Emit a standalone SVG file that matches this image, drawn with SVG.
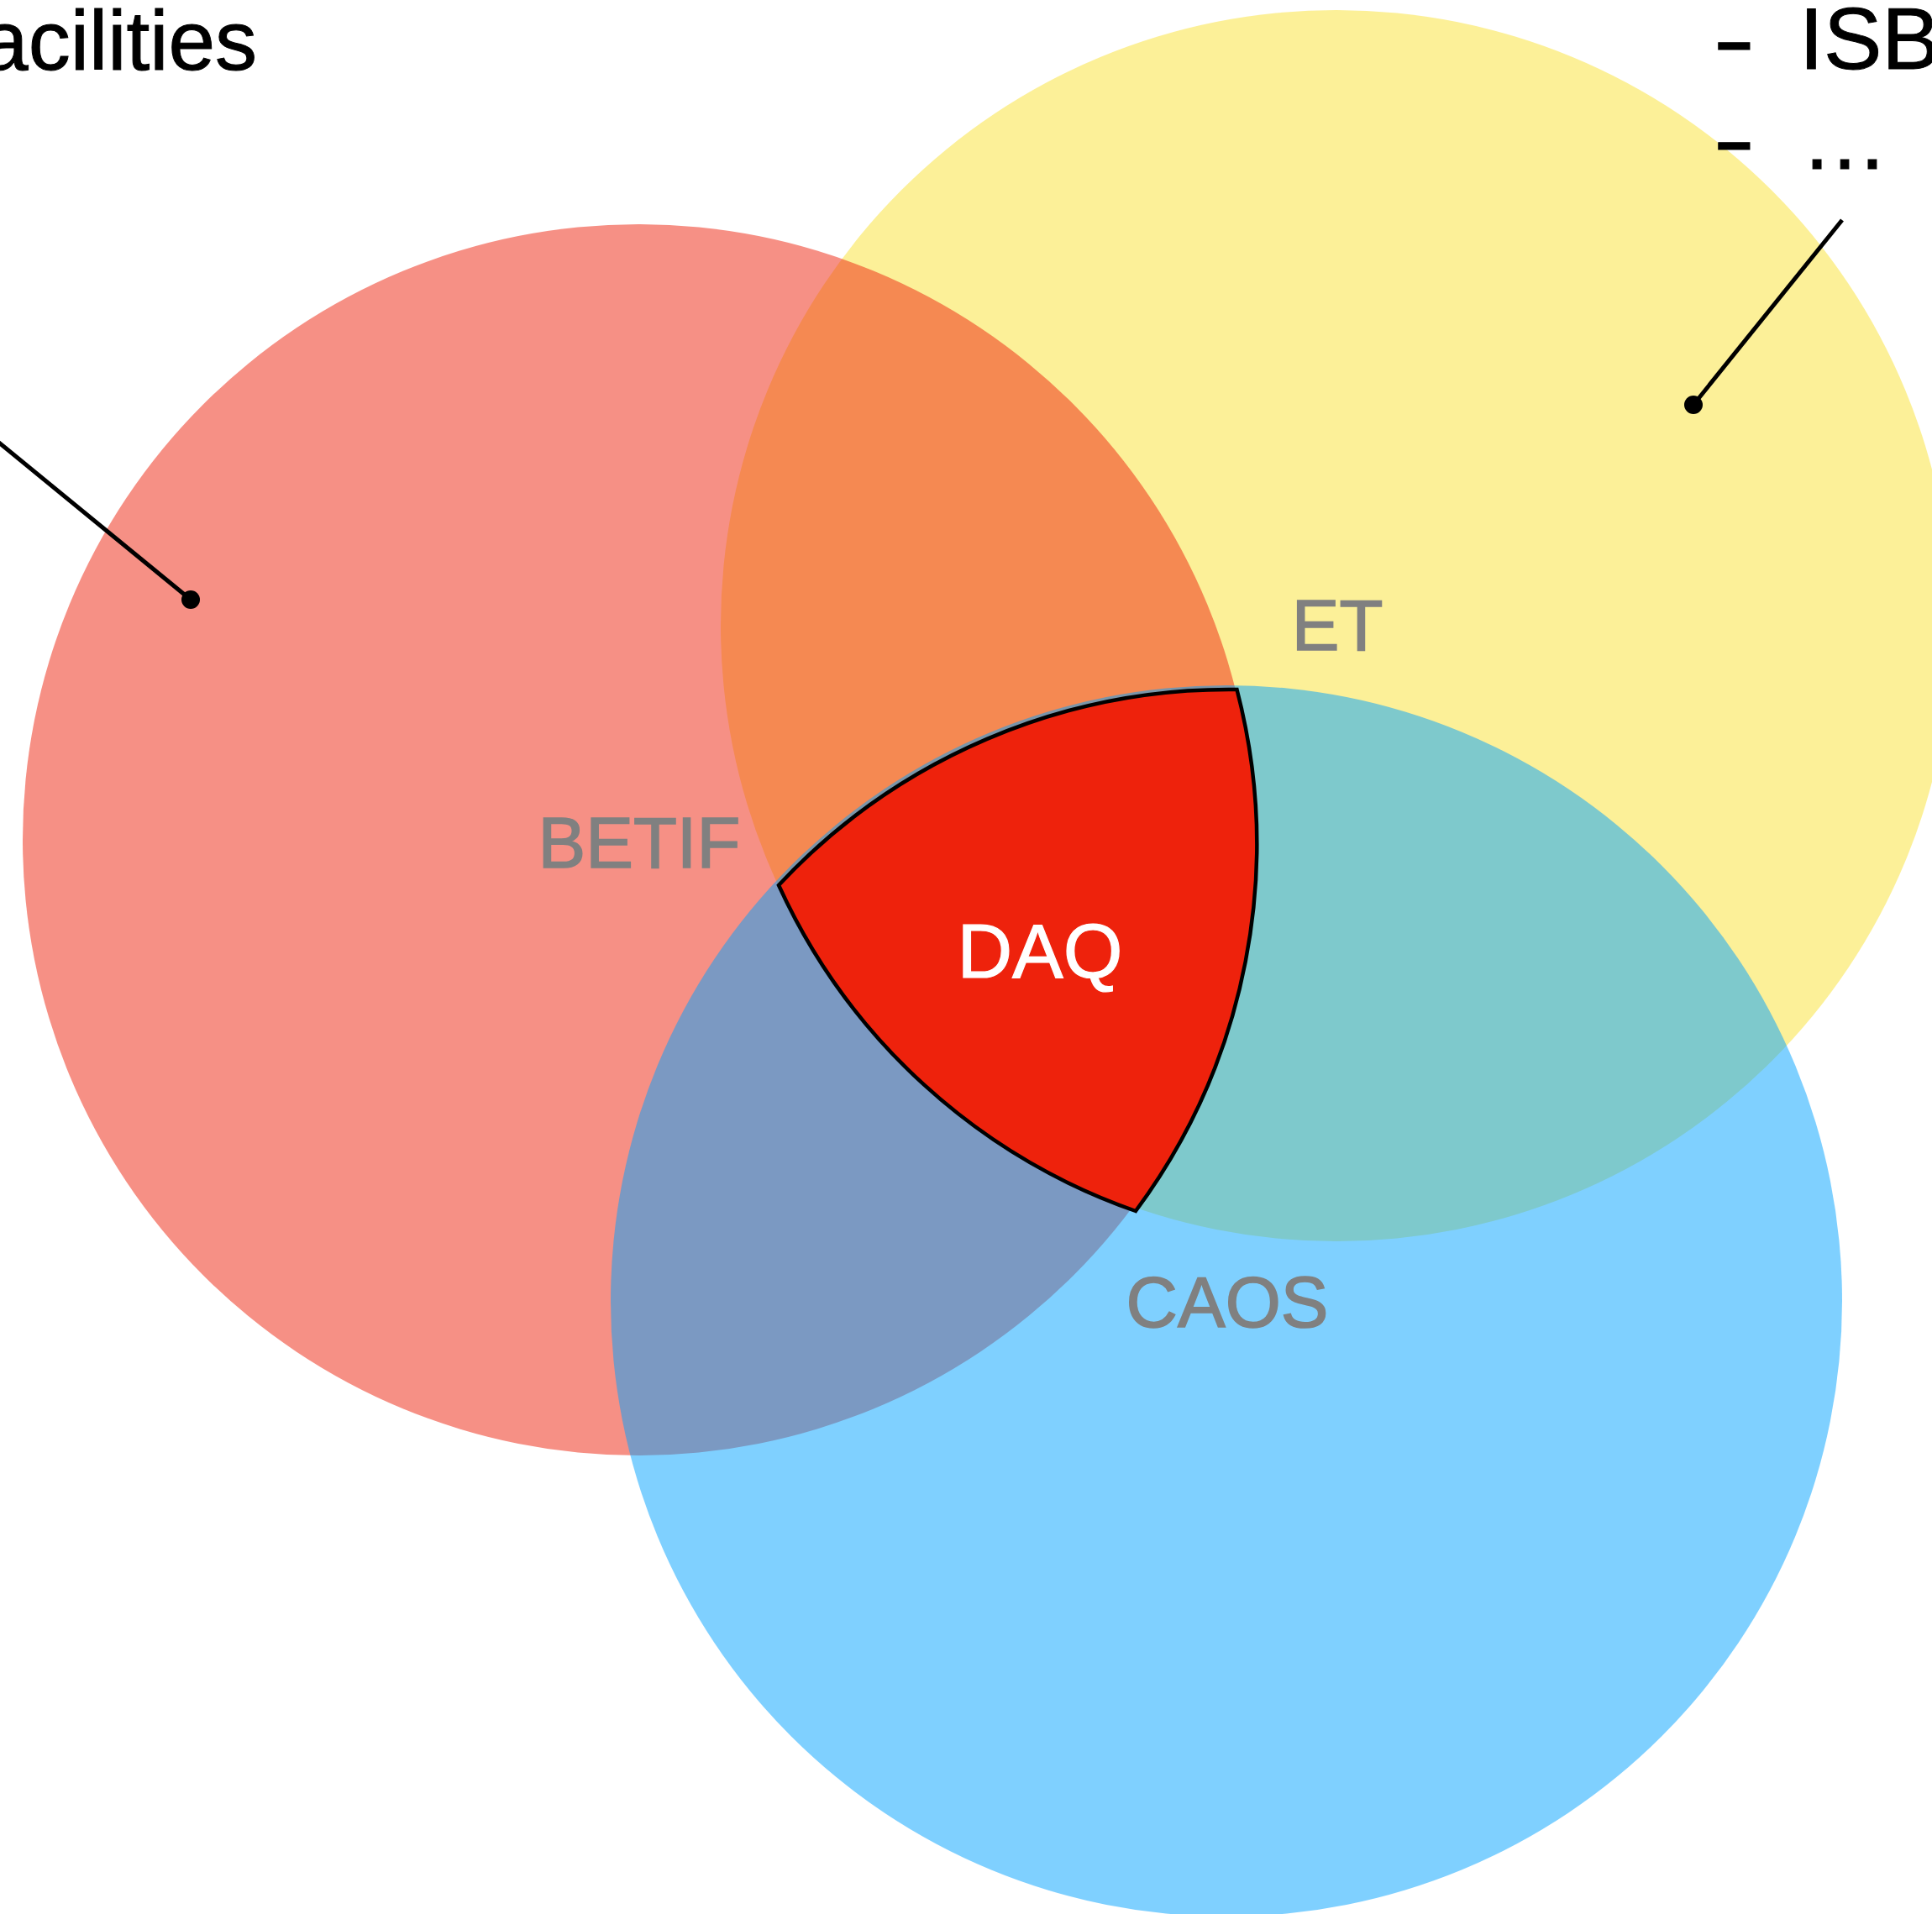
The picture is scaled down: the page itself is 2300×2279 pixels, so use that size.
<svg xmlns="http://www.w3.org/2000/svg" width="2300" height="2279" viewBox="0 0 2300 2279">
  <style>
    .set { fill-opacity: 0.5; }
    .lbl { font-family: "Liberation Sans", Arial, Helvetica, sans-serif; font-size: 85px; fill: #808080; stroke: #808080; stroke-width: 1.6; text-anchor: middle; }
    .note { font-family: "Liberation Sans", Arial, Helvetica, sans-serif; font-size: 104px; fill: #000000; stroke: #000000; stroke-width: 1; }
    .lead { stroke: #000000; stroke-width: 5; fill: none; }
    .dot { fill: #000000; }
  </style>
  <rect x="0" y="0" width="2300" height="2279" fill="#ffffff"/>

  <g id="node-et">
    <circle class="set" cx="1591" cy="745" r="733" fill="#FAE232"/>
  </g>
  <g id="node-betif">
    <circle class="set" cx="760" cy="1000" r="733" fill="#EE220C"/>
  </g>
  <g id="node-caos">
    <circle class="set" cx="1460" cy="1549" r="733" fill="#00A2FF"/>
  </g>

  <g id="node-daq">
    <path d="M 927 1054 A 733 733 0 0 1 1472.5 821 A 733 733 0 0 1 1352 1442 A 733 733 0 0 1 927 1054 Z" fill="#EE220C" stroke="#000000" stroke-width="4.5" stroke-linejoin="miter"/>
    <text x="1238" y="1164" class="lbl" style="font-size:91px;fill:#ffffff;stroke:#ffffff;stroke-width:1.2">DAQ</text>
  </g>

  <g id="labels">
    <text x="761" y="1033" class="lbl">BETIF</text>
    <text x="1592" y="774" class="lbl">ET</text>
    <text x="1461" y="1580" class="lbl">CAOS</text>
  </g>

  <g id="note-left">
    <text x="306" y="83" class="note" style="font-size:100px" text-anchor="end">acilities</text>
  </g>

  <g id="note-right">
    <text transform="translate(2046,82.5) scale(1.45,1)" x="-4.6" y="0" class="note">-</text>
    <text x="2142" y="82" class="note">ISB</text>
    <text transform="translate(2046,201.5) scale(1.45,1)" x="-4.6" y="0" class="note">-</text>
    <text x="2144" y="201" class="note">…</text>
  </g>

  <g id="connectors">
    <line class="lead" x1="-20" y1="511.6" x2="227" y2="714"/>
    <circle class="dot" cx="227" cy="714" r="11"/>
    <line class="lead" x1="2193" y1="262" x2="2016" y2="482"/>
    <circle class="dot" cx="2016" cy="482" r="11"/>
  </g>
</svg>
